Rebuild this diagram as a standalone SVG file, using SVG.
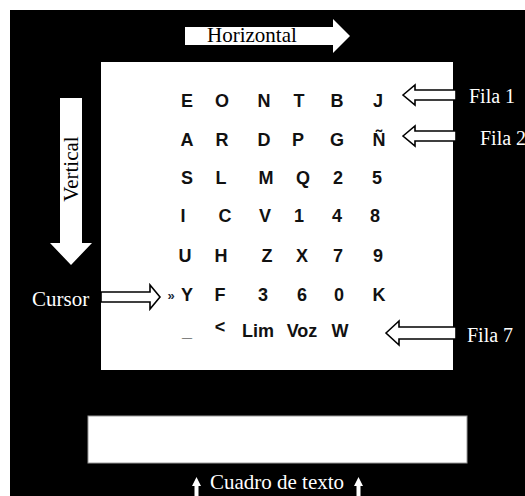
<svg xmlns="http://www.w3.org/2000/svg" width="525" height="496" viewBox="0 0 525 496">
  <style>
    .bg { fill: #000; }
    .panel { fill: #fff; }
    .key { font-family: "Liberation Sans", Arial, sans-serif; font-weight: bold; font-size: 18px; fill: #111; text-anchor: middle; }
    .lbl { font-family: "Liberation Serif", "Times New Roman", serif; font-size: 21px; }
    .lbl-w { fill: #fff; }
    .lbl-b { fill: #000; }
    .blk { fill: #fff; stroke: none; }
    .outl { fill: #fff; stroke: #000; stroke-width: 1.6; stroke-linejoin: miter; }
  </style>

  <!-- dark backdrop -->
  <rect class="bg" x="10" y="10" width="515" height="486"/>

  <!-- keyboard panel -->
  <g id="keyboard">
    <rect class="panel" x="101" y="62" width="352" height="308"/>
    <g id="row1">
      <text class="key" x="187" y="107">E</text>
      <text class="key" x="222" y="107">O</text>
      <text class="key" x="264" y="107">N</text>
      <text class="key" x="299" y="107">T</text>
      <text class="key" x="337" y="107">B</text>
      <text class="key" x="378" y="107">J</text>
    </g>
    <g id="row2">
      <text class="key" x="187" y="146">A</text>
      <text class="key" x="222" y="146">R</text>
      <text class="key" x="264" y="146">D</text>
      <text class="key" x="298" y="146">P</text>
      <text class="key" x="337" y="146">G</text>
      <text class="key" x="379" y="146">Ñ</text>
    </g>
    <g id="row3">
      <text class="key" x="187" y="184">S</text>
      <text class="key" x="221" y="184">L</text>
      <text class="key" x="266" y="184">M</text>
      <text class="key" x="303" y="184">Q</text>
      <text class="key" x="338" y="184">2</text>
      <text class="key" x="377" y="184">5</text>
    </g>
    <g id="row4">
      <text class="key" x="183" y="222">I</text>
      <text class="key" x="225" y="222">C</text>
      <text class="key" x="265" y="222">V</text>
      <text class="key" x="299" y="222">1</text>
      <text class="key" x="337" y="222">4</text>
      <text class="key" x="375" y="222">8</text>
    </g>
    <g id="row5">
      <text class="key" x="185" y="262">U</text>
      <text class="key" x="221" y="262">H</text>
      <text class="key" x="267" y="262">Z</text>
      <text class="key" x="302" y="262">X</text>
      <text class="key" x="338" y="262">7</text>
      <text class="key" x="378" y="262">9</text>
    </g>
    <g id="row6">
      <text class="key" x="171" y="300" style="font-size:13px; fill:#1a2a3a">»</text>
      <text class="key" x="187" y="301">Y</text>
      <text class="key" x="220" y="301">F</text>
      <text class="key" x="263" y="301">3</text>
      <text class="key" x="302" y="301">6</text>
      <text class="key" x="339" y="301">0</text>
      <text class="key" x="379" y="301">K</text>
    </g>
    <g id="row7">
      <text class="key" x="187" y="337">_</text>
      <text class="key" x="220" y="333">&lt;</text>
      <text class="key" x="258" y="337">Lim</text>
      <text class="key" x="302" y="337">Voz</text>
      <text class="key" x="340" y="337">W</text>
    </g>
  </g>

  <!-- text output box -->
  <g id="text-box">
    <rect x="88" y="416" width="379" height="47" fill="#fff" stroke="#9a9a9a" stroke-width="1"/>
  </g>

  <!-- direction labels and pointers -->
  <g id="connectors">
    <g id="horizontal">
      <polygon class="blk" points="185,27 333,27 333,19 350,36 333,53 333,45 185,45"/>
      <text class="lbl lbl-b" x="207" y="42">Horizontal</text>
    </g>
    <g id="vertical">
      <polygon class="blk" points="60,98 82,98 82,243 92,243 71,265 50,243 60,243"/>
      <text class="lbl lbl-b" transform="translate(78,169) rotate(-90)" text-anchor="middle">Vertical</text>
    </g>
    <g id="cursor">
      <polygon class="outl" points="101,292 150,292 150,285 160,297 150,309 150,302 101,302"/>
      <text class="lbl lbl-w" x="32" y="306">Cursor</text>
    </g>
    <g id="fila1">
      <polygon class="outl" points="403,95 415,85 415,90 456,90 456,100 415,100 415,105"/>
      <text class="lbl lbl-w" x="469" y="103" style="font-size:20px">Fila 1</text>
    </g>
    <g id="fila2">
      <polygon class="outl" points="403,136 415,126 415,131 456,131 456,141 415,141 415,146"/>
      <text class="lbl lbl-w" x="480" y="145" style="font-size:20px">Fila 2</text>
    </g>
    <g id="fila7">
      <polygon class="outl" points="386,333 399,321 399,327 456,327 456,339 399,339 399,345"/>
      <text class="lbl lbl-w" x="467" y="342" style="font-size:20px">Fila 7</text>
    </g>
    <g id="text-box-label">
      <polygon class="blk" points="192,486 196.5,477 201,486 198.5,486 198.5,496 194.5,496 194.5,486"/>
      <polygon class="blk" points="354,486 358.5,477 363,486 360.5,486 360.5,496 356.5,496 356.5,486"/>
      <text class="lbl lbl-w" x="277" y="489" text-anchor="middle">Cuadro de texto</text>
    </g>
  </g>
</svg>
